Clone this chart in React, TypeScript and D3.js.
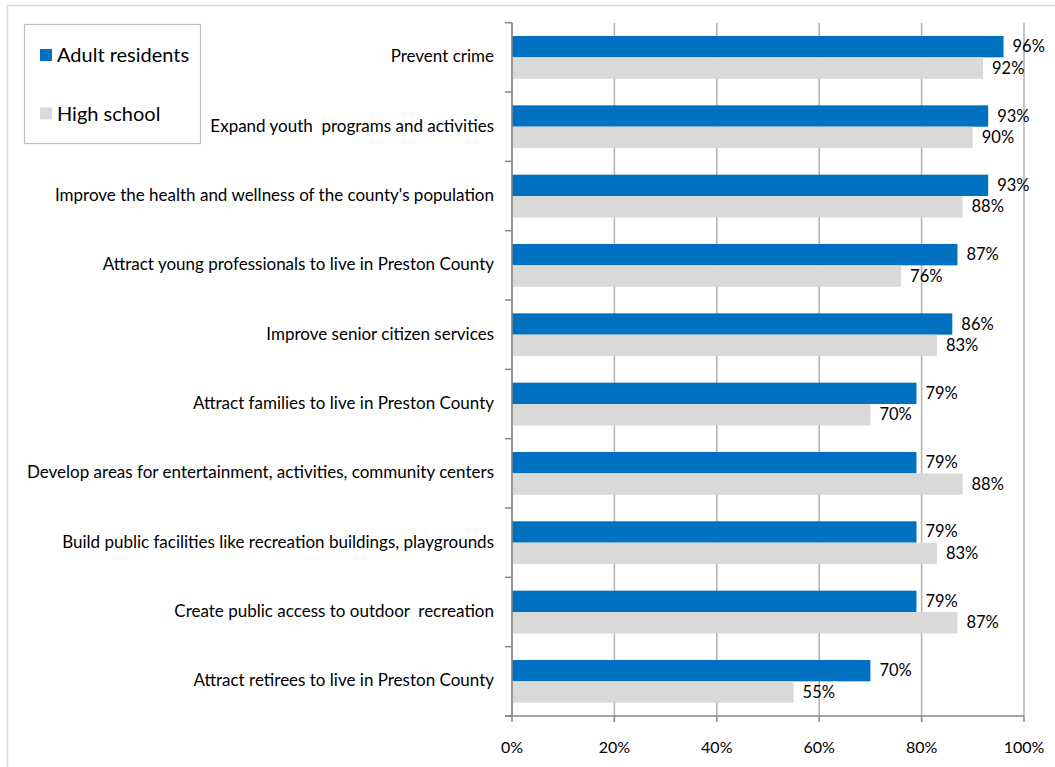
import React from "react";
import * as d3 from "d3";

const categories = [
  "Prevent crime",
  "Expand youth  programs and activities",
  "Improve the health and wellness of the county's population",
  "Attract young professionals to live in Preston County",
  "Improve senior citizen services",
  "Attract families to live in Preston County",
  "Develop areas for entertainment, activities, community centers",
  "Build public facilities like recreation buildings, playgrounds",
  "Create public access to outdoor  recreation",
  "Attract retirees to live in Preston County",
];
const adultResidents = [96, 93, 93, 87, 86, 79, 79, 79, 79, 70];
const highSchool = [92, 90, 88, 76, 83, 70, 88, 83, 87, 55];
const xTicks = [0, 20, 40, 60, 80, 100];
const seriesNames = ["Adult residents", "High school"];
const seriesColors = ["#0070c0", "#d9d9d9"];

const W = 1055;
const H = 767;
const FONT = "Lato, 'Open Sans', sans-serif";

export default function App() {
  const plotLeft = 512;
  const plotRight = 1024;
  const plotTop = 22.7;
  const plotBottom = 716;

  const x = d3.scaleLinear().domain([0, 100]).range([plotLeft, plotRight]);
  const y = d3
    .scaleBand<string>()
    .domain(categories)
    .range([plotTop, plotBottom])
    .paddingInner(0)
    .paddingOuter(0);
  const bw = y.bandwidth();
  const groupPad = bw * 0.192;
  const barH = (bw - 2 * groupPad) / 2;

  const boundaries = d3.range(categories.length + 1).map((i) => plotTop + i * bw);

  return (
    <svg
      width={W}
      height={H}
      style={{ position: "absolute", left: 0, top: 0, background: "#fff" }}
      fontFamily={FONT}
    >
      {/* outer chart border */}
      <rect x={7.5} y={5.5} width={W + 10} height={H + 10} fill="#fff" stroke="#d9d9d9" strokeWidth={1.5} />

      {/* gridlines */}
      {xTicks.map((t) => (
        <line key={"g" + t} x1={x(t)} x2={x(t)} y1={plotTop} y2={plotBottom} stroke="#b3b3b3" strokeWidth={1.5} />
      ))}

      {/* bars */}
      {categories.map((c, i) => {
        const y0 = (y(c) as number) + groupPad;
        const vals = [adultResidents[i], highSchool[i]];
        return (
          <g key={c}>
            {vals.map((v, s) => (
              <g key={s}>
                <rect
                  x={x(0)}
                  y={y0 + s * barH}
                  width={x(v) - x(0)}
                  height={barH}
                  fill={seriesColors[s]}
                />
                <text
                  x={x(v) + 9}
                  y={y0 + s * barH + barH / 2 + 5.5}
                  fontSize={16.5}
                  fill="#000"
                >
                  {v}%
                </text>
              </g>
            ))}
          </g>
        );
      })}

      {/* y axis */}
      <line x1={plotLeft} x2={plotLeft} y1={plotTop} y2={plotBottom} stroke="#868686" strokeWidth={1.5} />
      {boundaries.map((b, i) => (
        <line key={"yt" + i} x1={plotLeft - 7} x2={plotLeft} y1={b} y2={b} stroke="#868686" strokeWidth={1.5} />
      ))}
      {/* x axis */}
      <line x1={plotLeft - 7} x2={plotRight} y1={plotBottom} y2={plotBottom} stroke="#868686" strokeWidth={1.5} />
      {xTicks.map((t) => (
        <line key={"xt" + t} x1={x(t)} x2={x(t)} y1={plotBottom} y2={plotBottom + 6} stroke="#868686" strokeWidth={1.5} />
      ))}
      {xTicks.map((t) => (
        <text key={"xl" + t} x={x(t)} y={752.5} fontSize={16} textAnchor="middle" fill="#000">
          {t}%
        </text>
      ))}

      {/* category labels */}
      {categories.map((c) => (
        <text
          key={"cl" + c}
          x={494}
          y={(y(c) as number) + bw / 2 + 5}
          fontSize={17}
          textAnchor="end"
          fill="#000"
          style={{ whiteSpace: "pre" }}
        >
          {c}
        </text>
      ))}

      {/* legend */}
      <rect x={24.5} y={24.5} width={176} height={119} fill="#fff" stroke="#bfbfbf" strokeWidth={1.2} />
      {seriesNames.map((n, i) => (
        <g key={n}>
          <rect x={40} y={49 + i * 58.5} width={12} height={12} fill={seriesColors[i]} />
          <text x={57} y={62 + i * 59} fontSize={20} fill="#000">
            {n}
          </text>
        </g>
      ))}
    </svg>
  );
}
